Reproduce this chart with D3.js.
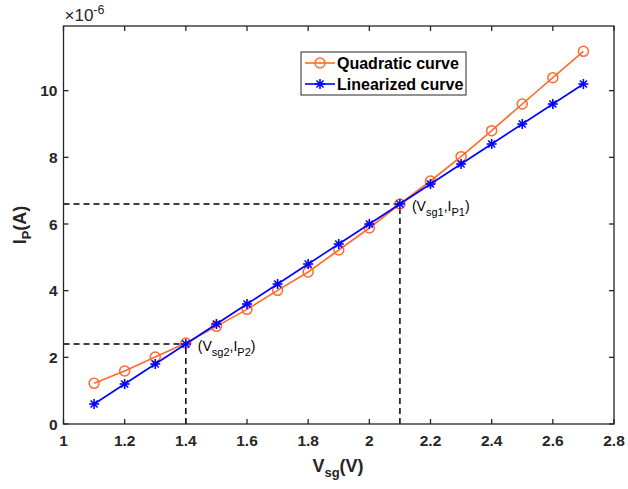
<!DOCTYPE html>
<html><head><meta charset="utf-8">
<script src="https://cdn.jsdelivr.net/npm/d3@7"></script>
<style>body{margin:0;background:#fff}svg{display:block}text{font-family:"Liberation Sans",Arial,sans-serif}</style>
</head><body><svg id="c" width="628" height="489"></svg>
<script>
const vsg = [1.1,1.2,1.3,1.4,1.5,1.6,1.7,1.8,1.9,2.0,2.1,2.2,2.3,2.4,2.5,2.6,2.7];
const quadratic = [1.22,1.59,2.01,2.43,2.93,3.44,4.01,4.56,5.22,5.88,6.6,7.29,8.02,8.8,9.6,10.39,11.18];
const linearized = [0.6,1.2,1.8,2.4,3.0,3.6,4.2,4.8,5.4,6.0,6.6,7.2,7.8,8.4,9.0,9.6,10.2];
const xTicks = [1,1.2,1.4,1.6,1.8,2,2.2,2.4,2.6,2.8];
const yTicks = [0,2,4,6,8,10];
const opPoints = [{v:2.1,i:6.6,sub:"sg1",psub:"P1"},{v:1.4,i:2.4,sub:"sg2",psub:"P2"}];

const svg = d3.select("#c");
const L=63.5,R=614,T=26,B=424;
const x = d3.scaleLinear().domain([1,2.8]).range([L,R]);
const y = d3.scaleLinear().domain([0,11.94]).range([B,T]);
const orange="#ff6a2e", blue="#0000ff";

// dashed guide lines
opPoints.forEach(p=>{
  svg.append("line").attr("x1",x(1)).attr("x2",x(p.v)).attr("y1",y(p.i)).attr("y2",y(p.i))
    .attr("stroke","#000").attr("stroke-width",1.5).attr("stroke-dasharray","6,4");
  svg.append("line").attr("x1",x(p.v)).attr("x2",x(p.v)).attr("y1",y(0)).attr("y2",y(p.i))
    .attr("stroke","#000").attr("stroke-width",1.5).attr("stroke-dasharray","6,4");
});

const line = d3.line().x((d,i)=>x(vsg[i])).y(d=>y(d));
svg.append("path").datum(quadratic).attr("d",line).attr("fill","none").attr("stroke",orange).attr("stroke-width",1.6);
svg.selectAll(".qc").data(quadratic).enter().append("circle")
  .attr("cx",(d,i)=>x(vsg[i])).attr("cy",d=>y(d)).attr("r",5)
  .attr("fill","none").attr("stroke",orange).attr("stroke-width",1.5);
svg.append("path").datum(linearized).attr("d",line).attr("fill","none").attr("stroke",blue).attr("stroke-width",1.6);

function star(g,cx,cy,s){
  for(let k=0;k<4;k++){
    const a=k*Math.PI/4;
    g.append("line").attr("x1",cx-s*Math.cos(a)).attr("y1",cy-s*Math.sin(a))
      .attr("x2",cx+s*Math.cos(a)).attr("y2",cy+s*Math.sin(a))
      .attr("stroke",blue).attr("stroke-width",1.6);
  }
}
const sg=svg.append("g");
linearized.forEach((d,i)=>star(sg,x(vsg[i]),y(d),5));

// axes box
svg.append("rect").attr("x",L).attr("y",T).attr("width",R-L).attr("height",B-T)
  .attr("fill","none").attr("stroke","#262626").attr("stroke-width",1.3);
const tk=5;
xTicks.forEach(t=>{
  svg.append("line").attr("x1",x(t)).attr("x2",x(t)).attr("y1",B).attr("y2",B-tk).attr("stroke","#262626").attr("stroke-width",1.3);
  svg.append("line").attr("x1",x(t)).attr("x2",x(t)).attr("y1",T).attr("y2",T+tk).attr("stroke","#262626").attr("stroke-width",1.3);
  svg.append("text").attr("x",x(t)).attr("y",B+22).attr("text-anchor","middle")
    .attr("font-size",15.5).attr("font-weight","bold").attr("fill","#262626").text(d3.format("")(t));
});
yTicks.forEach(t=>{
  svg.append("line").attr("x1",L).attr("x2",L+tk).attr("y1",y(t)).attr("y2",y(t)).attr("stroke","#262626").attr("stroke-width",1.3);
  svg.append("line").attr("x1",R).attr("x2",R-tk).attr("y1",y(t)).attr("y2",y(t)).attr("stroke","#262626").attr("stroke-width",1.3);
  svg.append("text").attr("x",L-6).attr("y",y(t)+5.5).attr("text-anchor","end")
    .attr("font-size",15.5).attr("font-weight","bold").attr("fill","#262626").text(t);
});

// exponent
const ex=svg.append("text").attr("x",L+1).attr("y",21).attr("font-size",17).attr("fill","#262626");
ex.append("tspan").text("×10");
ex.append("tspan").attr("dy",-7).attr("font-size",12.5).text("-6");

// axis labels
const xl=svg.append("text").attr("x",338).attr("y",472).attr("text-anchor","middle")
  .attr("font-size",18).attr("font-weight","bold").attr("fill","#262626");
xl.append("tspan").text("V");
xl.append("tspan").attr("dy",5).attr("font-size",13).text("sg");
xl.append("tspan").attr("dy",-5).text("(V)");
const yl=svg.append("text").attr("transform",`translate(26,${(T+B)/2}) rotate(-90)`).attr("text-anchor","middle")
  .attr("font-size",18).attr("font-weight","bold").attr("fill","#262626");
yl.append("tspan").text("I");
yl.append("tspan").attr("dy",5).attr("font-size",13).text("P");
yl.append("tspan").attr("dy",-5).text("(A)");

// point annotations
opPoints.forEach(p=>{
  const t=svg.append("text").attr("x",x(p.v)+12).attr("y",y(p.i)+7).attr("font-size",14).attr("fill","#000");
  t.append("tspan").text("(V");
  t.append("tspan").attr("dy",5).attr("font-size",11).text(p.sub);
  t.append("tspan").attr("dy",-5).text(",I");
  t.append("tspan").attr("dy",5).attr("font-size",11).text(p.psub);
  t.append("tspan").attr("dy",-5).text(")");
});

// legend
const lg=svg.append("g");
lg.append("rect").attr("x",301).attr("y",52).attr("width",165).attr("height",43)
  .attr("fill","#fff").attr("stroke","#262626").attr("stroke-width",1);
const items=[{n:"Quadratic curve",c:orange,m:"o"},{n:"Linearized curve",c:blue,m:"*"}];
items.forEach((it,k)=>{
  const cy=63+k*21;
  lg.append("line").attr("x1",305).attr("x2",335).attr("y1",cy).attr("y2",cy).attr("stroke",it.c).attr("stroke-width",1.6);
  if(it.m==="o") lg.append("circle").attr("cx",320).attr("cy",cy).attr("r",5).attr("fill","none").attr("stroke",it.c).attr("stroke-width",1.5);
  else star(lg,320,cy,5);
  lg.append("text").attr("x",337).attr("y",cy+6).attr("font-size",16).attr("font-weight","bold").attr("fill","#000").text(it.n);
});
</script></body></html>
